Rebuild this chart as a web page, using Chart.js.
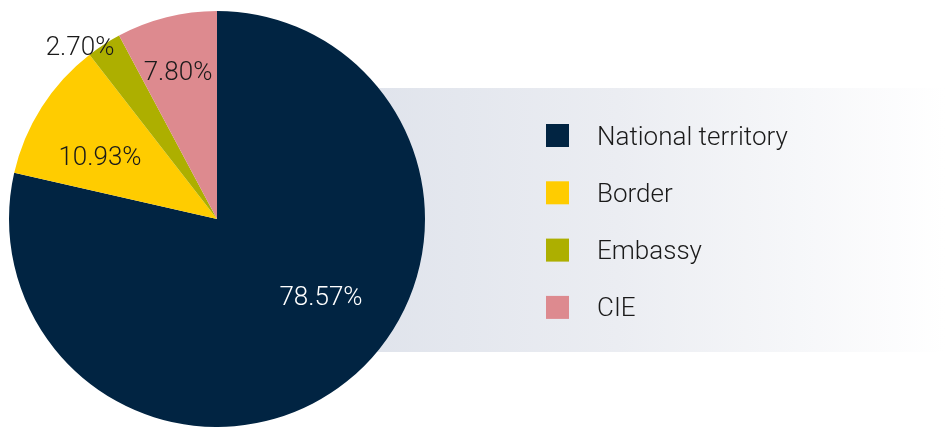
<!DOCTYPE html>
<html>
<head>
    <title>Pie chart - location</title>
    <script src="https://cdn.jsdelivr.net/npm/chart.js"></script>
    <style>
        html, body { margin: 0; padding: 0; background: #ffffff; }
        #wrap { width: 945px; height: 427px; position: relative; }
    </style>
</head>
<body>
    <div id="wrap"><canvas id="pieChart" width="945" height="427"></canvas></div>
    <script>
        // Data
        const labels = ['National territory', 'Border', 'Embassy', 'CIE'];
        const values = [78.57, 10.93, 2.70, 7.80];
        const colors = ['#012442', '#ffcc00', '#adaf00', '#dd8a8f'];
        const labelColors = ['#ffffff', '#1a1a1a', '#1a1a1a', '#1a1a1a'];
        // label offsets from pie centre (px)
        const labelOffsets = [[104, 79], [-117, -61], [-137, -171], [-39, -146]];

        const FONT = '300 26px Roboto, "Liberation Sans", sans-serif';

        // gradient band behind the pie + legend
        const bandPlugin = {
            id: 'band',
            beforeDraw(chart) {
                const ctx = chart.ctx;
                const g = ctx.createLinearGradient(217, 0, 945, 0);
                g.addColorStop(0, '#d9dee8');
                g.addColorStop(0.55, '#ebedf2');
                g.addColorStop(1, '#ffffff');
                ctx.save();
                ctx.fillStyle = g;
                ctx.fillRect(217, 88, 728, 264);
                ctx.restore();
            },
            afterDraw(chart) {
                const ctx = chart.ctx;
                ctx.save();
                ctx.font = FONT;
                ctx.textBaseline = 'middle';
                labels.forEach((l, i) => {
                    const y = 124 + i * 57.3;
                    ctx.fillStyle = colors[i];
                    ctx.fillRect(546, y, 23, 23);
                    ctx.fillStyle = '#1a1a1a';
                    ctx.fillText(l, 597, y + 14);
                });
                ctx.restore();
            }
        };

        // percentage labels
        const valuePlugin = {
            id: 'values',
            afterDatasetsDraw(chart) {
                const ctx = chart.ctx;
                const meta = chart.getDatasetMeta(0);
                ctx.save();
                ctx.font = FONT;
                ctx.textAlign = 'center';
                ctx.textBaseline = 'middle';
                meta.data.forEach((arc, i) => {
                    ctx.fillStyle = labelColors[i];
                    ctx.fillText(values[i].toFixed(2) + '%', arc.x + labelOffsets[i][0], arc.y + labelOffsets[i][1]);
                });
                ctx.restore();
            }
        };

        new Chart(document.getElementById('pieChart').getContext('2d'), {
            type: 'pie',
            data: {
                labels: labels,
                datasets: [{
                    data: values,
                    backgroundColor: colors,
                    borderWidth: 0
                }]
            },
            options: {
                responsive: false,
                animation: false,
                layout: { padding: { left: 9, right: 520, top: 11, bottom: 0 } },
                plugins: {
                    legend: { display: false },
                    tooltip: { enabled: false }
                }
            },
            plugins: [bandPlugin, valuePlugin]
        });
    </script>
</body>
</html>
